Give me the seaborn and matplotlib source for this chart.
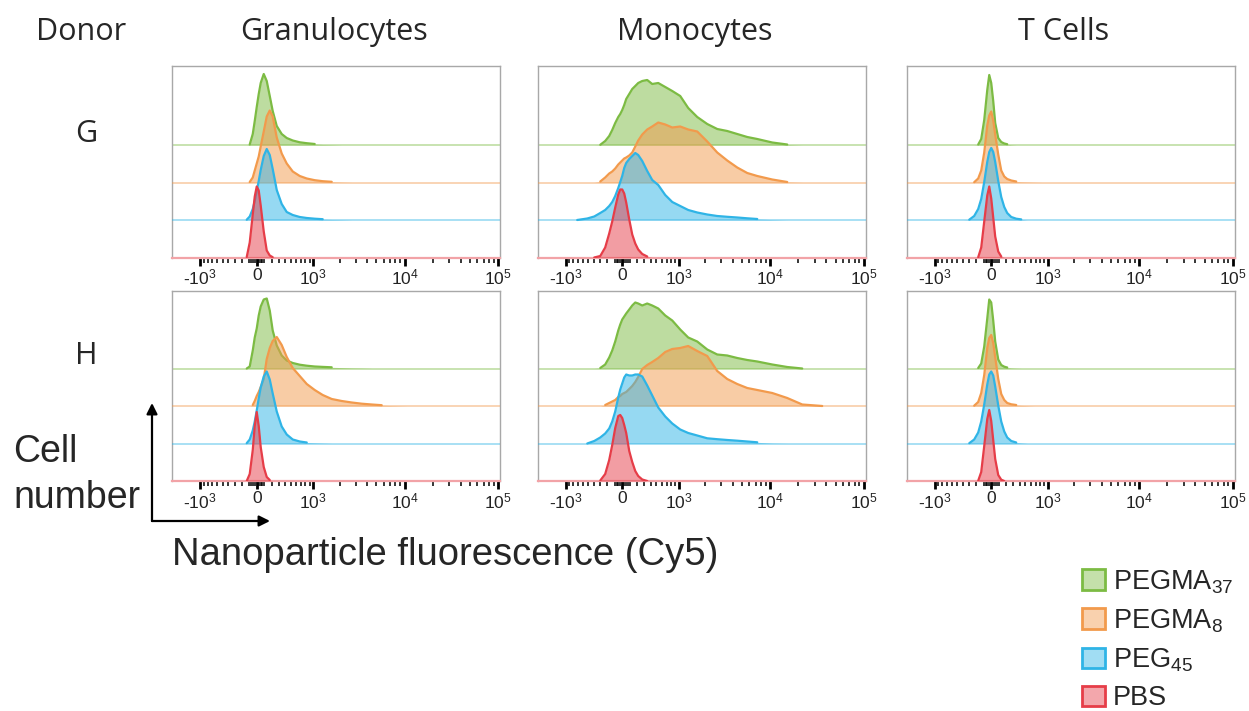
import numpy as np
import matplotlib
matplotlib.use("Agg")
import matplotlib.pyplot as plt
import seaborn as sns
from matplotlib.patches import Patch, FancyArrowPatch

# ---------------- data ----------------
# common fluorescence grid (Cy5 intensity), drawn on an arcsinh (biexponential-like) axis
FLUOR = [-2100, -1099, -715, -515, -395, -301, -229, -173, -132, -92, -52, -26, 0, 26, 52, 92,
         132, 173, 214, 272, 347, 428, 534, 672, 830, 1040, 1291, 1634, 2110, 2713, 3480, 4458,
         5707, 7304, 10560, 15263, 22063, 36043, 58892, 105000]

SERIES = ["PEGMA37", "PEGMA8", "PEG45", "PBS"]
SERIES_LABELS = [r"PEGMA$_{37}$", r"PEGMA$_{8}$", r"PEG$_{45}$", "PBS"]
CELL_TYPES = ["Granulocytes", "Monocytes", "T Cells"]
DONORS = ["G", "H"]

TICK_VALUES = [-1000, 0, 1000, 10000, 100000]
TICK_LABELS = [r"-$10^3$", "0", r"$10^3$", r"$10^4$", r"$10^5$"]

# relative cell counts (mode ~ 72) per histogram, aligned with FLUOR
G_GRAN_PEGMA37 = [0, 0, 0, 0, 0, 0, 0, 0, 0, 0.5, 11, 24, 38, 51, 62, 71, 64, 49, 34, 19, 11, 7, 4.5, 2.7, 1.8, 1, 0.5, 0.3, 0, 0, 0, 0, 0, 0, 0, 0, 0, 0, 0, 0]
G_GRAN_PEGMA8 = [0, 0, 0, 0, 0, 0, 0, 0, 0, 0.5, 5, 12, 19, 26, 36, 51, 66, 72, 66, 45, 29, 19, 11, 6.5, 4, 2.3, 1.3, 0.7, 0.3, 0, 0, 0, 0, 0, 0, 0, 0, 0, 0, 0]
G_GRAN_PEG45 = [0, 0, 0, 0, 0, 0, 0, 0, 0.3, 3.5, 11, 19, 29, 39, 50, 64, 71, 65, 51, 30, 16, 8, 5, 3, 2, 1.3, 0.8, 0.5, 0.3, 0, 0, 0, 0, 0, 0, 0, 0, 0, 0, 0]
G_GRAN_PBS = [0, 0, 0, 0, 0, 0, 0, 0, 0.5, 15, 43, 61, 71, 67, 52, 26, 7, 2, 0.3, 0, 0, 0, 0, 0, 0, 0, 0, 0, 0, 0, 0, 0, 0, 0, 0, 0, 0, 0, 0, 0]

G_MONO_PEGMA37 = [0, 0, 0, 0, 0, 0.2, 4, 9, 15, 22, 28, 31, 35, 40, 46, 51, 56, 59, 62, 64, 65, 61, 62, 58, 54, 49, 37, 28, 21, 16, 14, 11, 8, 6, 2.5, 0.5, 0, 0, 0, 0]
G_MONO_PEGMA8 = [0, 0, 0, 0, 0, 1, 5, 9, 11, 14, 18, 20, 22, 24, 25, 27, 30, 36, 42, 48, 53, 56, 60, 58, 55, 56, 53, 51, 41, 30, 22, 15, 9.5, 6.5, 3, 0.5, 0, 0, 0, 0]
G_MONO_PEG45 = [0, 0, 0, 1.5, 3.5, 7, 10, 14, 18, 24, 32, 38, 44, 52, 57, 61, 64, 67, 65, 59, 49, 40, 35, 25, 18, 14, 10, 7.5, 5.5, 4, 3.2, 2.5, 1.7, 1, 0.4, 0, 0, 0, 0, 0]
G_MONO_PBS = [0, 0, 0, 0, 0, 1.5, 10, 24, 36, 50, 63, 68, 68, 64, 55, 38, 23, 14, 8, 3.5, 1, 0, 0, 0, 0, 0, 0, 0, 0, 0, 0, 0, 0, 0, 0, 0, 0, 0, 0, 0]

G_TCELL_PEGMA37 = [0, 0, 0, 0, 0, 0, 0, 0.5, 6, 25, 55, 70, 62, 44, 22, 7, 3, 1.5, 0.8, 0.3, 0, 0, 0, 0, 0, 0, 0, 0, 0, 0, 0, 0, 0, 0, 0, 0, 0, 0, 0, 0]
G_TCELL_PEGMA8 = [0, 0, 0, 0, 0, 0, 0.3, 4, 12, 30, 57, 67, 71, 62, 48, 28, 12, 6, 3.5, 2, 1, 0.6, 0.4, 0.2, 0, 0, 0, 0, 0, 0, 0, 0, 0, 0, 0, 0, 0, 0, 0, 0]
G_TCELL_PEG45 = [0, 0, 0, 0, 0, 0.3, 4, 11, 21, 38, 58, 68, 72, 68, 58, 39, 23, 13, 7, 3, 1.3, 0.6, 0, 0, 0, 0, 0, 0, 0, 0, 0, 0, 0, 0, 0, 0, 0, 0, 0, 0]
G_TCELL_PBS = [0, 0, 0, 0, 0, 0, 0, 0.3, 10, 36, 62, 71, 59, 40, 21, 6, 1, 0, 0, 0, 0, 0, 0, 0, 0, 0, 0, 0, 0, 0, 0, 0, 0, 0, 0, 0, 0, 0, 0, 0]

H_GRAN_PEGMA37 = [0, 0, 0, 0, 0, 0, 0, 0, 0, 2, 18, 31, 40, 53, 62, 69, 70, 58, 38, 23, 13, 8, 5.5, 3.8, 2.8, 2, 1.6, 1.2, 0.9, 0.5, 0.3, 0, 0, 0, 0, 0, 0, 0, 0, 0]
H_GRAN_PEGMA8 = [0, 0, 0, 0, 0, 0, 0, 0, 0, 0, 1, 5, 10, 14, 19, 27, 47, 58, 65, 69, 61, 49, 38, 30, 22, 16, 11, 7, 5, 3.5, 2.3, 1.5, 0.8, 0.4, 0, 0, 0, 0, 0, 0]
H_GRAN_PEG45 = [0, 0, 0, 0, 0, 0, 0, 0, 0.3, 4, 13, 22, 33, 45, 56, 67, 72, 64, 50, 32, 17, 9, 4, 2, 1, 0.6, 0.3, 0, 0, 0, 0, 0, 0, 0, 0, 0, 0, 0, 0, 0]
H_GRAN_PBS = [0, 0, 0, 0, 0, 0, 0, 0, 0, 7, 31, 55, 69, 55, 34, 14, 4, 1, 0, 0, 0, 0, 0, 0, 0, 0, 0, 0, 0, 0, 0, 0, 0, 0, 0, 0, 0, 0, 0, 0]

H_MONO_PEGMA37 = [0, 0, 0, 0, 0, 0.5, 4, 11, 18, 27, 38, 44, 49, 52, 55, 59, 63, 66, 65, 63, 65, 63, 60, 53, 48, 39, 31, 27, 19, 14, 13, 10.5, 8.5, 7, 4, 1.5, 0, 0, 0, 0]
H_MONO_PEGMA8 = [0, 0, 0, 0, 0, 0, 1, 3, 4.5, 6, 9, 10, 12, 13, 14, 17, 20, 24, 29, 37, 41, 44, 48, 54, 57, 58, 60, 55, 50, 35, 27, 22, 18, 16, 13, 8, 1.5, 0, 0, 0]
H_MONO_PEG45 = [0, 0, 0, 0, 2.5, 6, 10, 15, 22, 32, 46, 54, 60, 66, 69, 68, 68, 69, 69, 67, 58, 48, 36, 27, 20, 14, 10.5, 8, 5.2, 4.3, 3.5, 2.8, 2, 1.2, 0.3, 0, 0, 0, 0, 0]
H_MONO_PBS = [0, 0, 0, 0, 0, 0.5, 7, 21, 36, 53, 65, 66, 63, 56, 48, 30, 19, 10, 5, 1.5, 0, 0, 0, 0, 0, 0, 0, 0, 0, 0, 0, 0, 0, 0, 0, 0, 0, 0, 0, 0]

H_TCELL_PEGMA37 = [0, 0, 0, 0, 0, 0, 0, 0.5, 5, 22, 50, 69, 66, 48, 27, 9, 3.5, 1.8, 1, 0.5, 0.2, 0, 0, 0, 0, 0, 0, 0, 0, 0, 0, 0, 0, 0, 0, 0, 0, 0, 0, 0]
H_TCELL_PEGMA8 = [0, 0, 0, 0, 0, 0, 0.3, 4, 13, 31, 58, 68, 71, 63, 49, 27, 12, 6, 3, 1.7, 1, 0.6, 0.3, 0, 0, 0, 0, 0, 0, 0, 0, 0, 0, 0, 0, 0, 0, 0, 0, 0]
H_TCELL_PEG45 = [0, 0, 0, 0, 0, 0.3, 4, 11, 22, 39, 59, 69, 72, 68, 57, 38, 22, 12, 6, 2.5, 1, 0.5, 0, 0, 0, 0, 0, 0, 0, 0, 0, 0, 0, 0, 0, 0, 0, 0, 0, 0]
H_TCELL_PBS = [0, 0, 0, 0, 0, 0, 0, 0.3, 9, 35, 62, 71, 60, 41, 22, 6, 1.3, 0, 0, 0, 0, 0, 0, 0, 0, 0, 0, 0, 0, 0, 0, 0, 0, 0, 0, 0, 0, 0, 0, 0]

HISTS = {
    ("G", "Granulocytes"): [G_GRAN_PEGMA37, G_GRAN_PEGMA8, G_GRAN_PEG45, G_GRAN_PBS],
    ("G", "Monocytes"): [G_MONO_PEGMA37, G_MONO_PEGMA8, G_MONO_PEG45, G_MONO_PBS],
    ("G", "T Cells"): [G_TCELL_PEGMA37, G_TCELL_PEGMA8, G_TCELL_PEG45, G_TCELL_PBS],
    ("H", "Granulocytes"): [H_GRAN_PEGMA37, H_GRAN_PEGMA8, H_GRAN_PEG45, H_GRAN_PBS],
    ("H", "Monocytes"): [H_MONO_PEGMA37, H_MONO_PEGMA8, H_MONO_PEG45, H_MONO_PBS],
    ("H", "T Cells"): [H_TCELL_PEGMA37, H_TCELL_PEGMA8, H_TCELL_PEG45, H_TCELL_PBS],
}
for k, v in HISTS.items():
    for s in v:
        assert len(s) == len(FLUOR), (k, len(s))

# ---------------- style ----------------
COLORS = ["#7cbb43", "#f29a4c", "#2fb4e6", "#e63d48"]
STACK_STEP = 37.5

sns.set_theme(style="white")
plt.rcParams["font.family"] = ["Liberation Sans", "DejaVu Sans"]
plt.rcParams["mathtext.fontset"] = "custom"
plt.rcParams["mathtext.rm"] = "Liberation Sans"
plt.rcParams["mathtext.it"] = "Liberation Sans:italic"
plt.rcParams["mathtext.bf"] = "Liberation Sans:bold"

W, H = 1249, 711
fig = plt.figure(figsize=(W / 100, H / 100), dpi=100)

COL_X = [(172, 500), (537.5, 865.5), (906.5, 1234.5)]
ROW_Y = [(66, 257.5), (291, 481)]

minor_ticks = ([-v for v in range(100, 1000, 100)] + [-75, -50, -25, 25, 50, 75]
               + list(range(100, 1000, 100)) + list(range(2000, 10000, 1000))
               + list(range(20000, 100000, 10000)))

for r, donor in enumerate(DONORS):
    y0, y1 = ROW_Y[r]
    for c, cell in enumerate(CELL_TYPES):
        x0, x1 = COL_X[c]
        ax = fig.add_axes([x0 / W, 1 - y1 / H, (x1 - x0) / W, (y1 - y0) / H])
        ax.set_xscale("asinh", linear_width=532)
        hists = HISTS[(donor, cell)]
        xs = np.array(FLUOR, dtype=float)
        for i, (h, col) in enumerate(zip(hists, COLORS)):
            off = (3 - i) * STACK_STEP
            h = np.array(h, dtype=float)
            yv = off + h
            z = 2 + 2 * i
            if i < 3:
                ax.axhline(off, color=col, alpha=0.45, lw=1.3, zorder=z)
            ax.fill_between(xs, off, yv, color=col, alpha=0.5, lw=0, zorder=z)
            nz = np.nonzero(h > 1.2)[0]
            lo, hi = max(nz[0] - 1, 0), min(nz[-1] + 2, len(h))
            sns.lineplot(x=xs[lo:hi], y=yv[lo:hi], ax=ax, color=col, lw=1.6,
                         estimator=None, sort=False, legend=False, zorder=z + 1)
        ax.set_xlim(-2096, 104300)
        ax.set_ylim(0, y1 - y0)
        ax.set_xlabel("")
        ax.set_ylabel("")
        ax.set_yticks([])
        ax.set_xticks(TICK_VALUES)
        ax.set_xticklabels(TICK_LABELS)
        ax.set_xticks(minor_ticks, minor=True)
        ax.tick_params(axis="x", which="major", direction="out", length=5.5, width=2.0,
                       color="black", labelsize=12.5, pad=2, bottom=True, labelcolor="#222222")
        ax.tick_params(axis="x", which="minor", direction="out", length=3.5, width=1.1,
                       color="black", bottom=True)
        for side in ["left", "top", "right"]:
            ax.spines[side].set_color("#a8a8a8")
            ax.spines[side].set_linewidth(1.0)
        ax.spines["bottom"].set_color("#f2a3a7")
        ax.spines["bottom"].set_linewidth(1.6)
        ax.set_facecolor("white")

# ---------------- labels ----------------
HEAD_FONT = ["Open Sans", "DejaVu Sans"]
HEAD_SIZE = 22
fig.text(81 / W, 1 - 40 / H, "Donor", ha="center", va="baseline", fontsize=HEAD_SIZE, family=HEAD_FONT)
head_x = [333.5, 694.5, 1064]
for cx, cell in zip(head_x, CELL_TYPES):
    fig.text(cx / W, 1 - 40 / H, cell, ha="center", va="baseline", fontsize=HEAD_SIZE, family=HEAD_FONT)
fig.text(86 / W, 1 - 142 / H, "G", ha="center", va="baseline", fontsize=HEAD_SIZE, family=HEAD_FONT)
fig.text(86 / W, 1 - 364 / H, "H", ha="center", va="baseline", fontsize=HEAD_SIZE, family=HEAD_FONT)

fig.text(13 / W, 1 - 462 / H, "Cell", ha="left", va="baseline", fontsize=27)
fig.text(13 / W, 1 - 508 / H, "number", ha="left", va="baseline", fontsize=27)
fig.text(172 / W, 1 - 565 / H, "Nanoparticle fluorescence (Cy5)", ha="left", va="baseline", fontsize=27.5)

corner = (152 / W, 1 - 521 / H)
fig.add_artist(FancyArrowPatch(corner, (152 / W, 1 - 403 / H), transform=fig.transFigure,
                               arrowstyle="-|>", mutation_scale=16, lw=1.6, color="black",
                               shrinkA=0, shrinkB=0))
fig.add_artist(FancyArrowPatch(corner, (270 / W, 1 - 521 / H), transform=fig.transFigure,
                               arrowstyle="-|>", mutation_scale=16, lw=1.6, color="black",
                               shrinkA=0, shrinkB=0))

handles = [Patch(facecolor=matplotlib.colors.to_rgba(col, 0.45), edgecolor=col, linewidth=2)
           for col in COLORS]
fig.legend(handles, SERIES_LABELS, loc="upper left", bbox_to_anchor=(1082 / W, 1 - 568 / H),
           frameon=False, fontsize=19.5, handlelength=0.85, handleheight=0.8,
           handletextpad=0.3, labelspacing=0.43, borderpad=0, borderaxespad=0)

fig.savefig("out.png", dpi=100, facecolor="white")
